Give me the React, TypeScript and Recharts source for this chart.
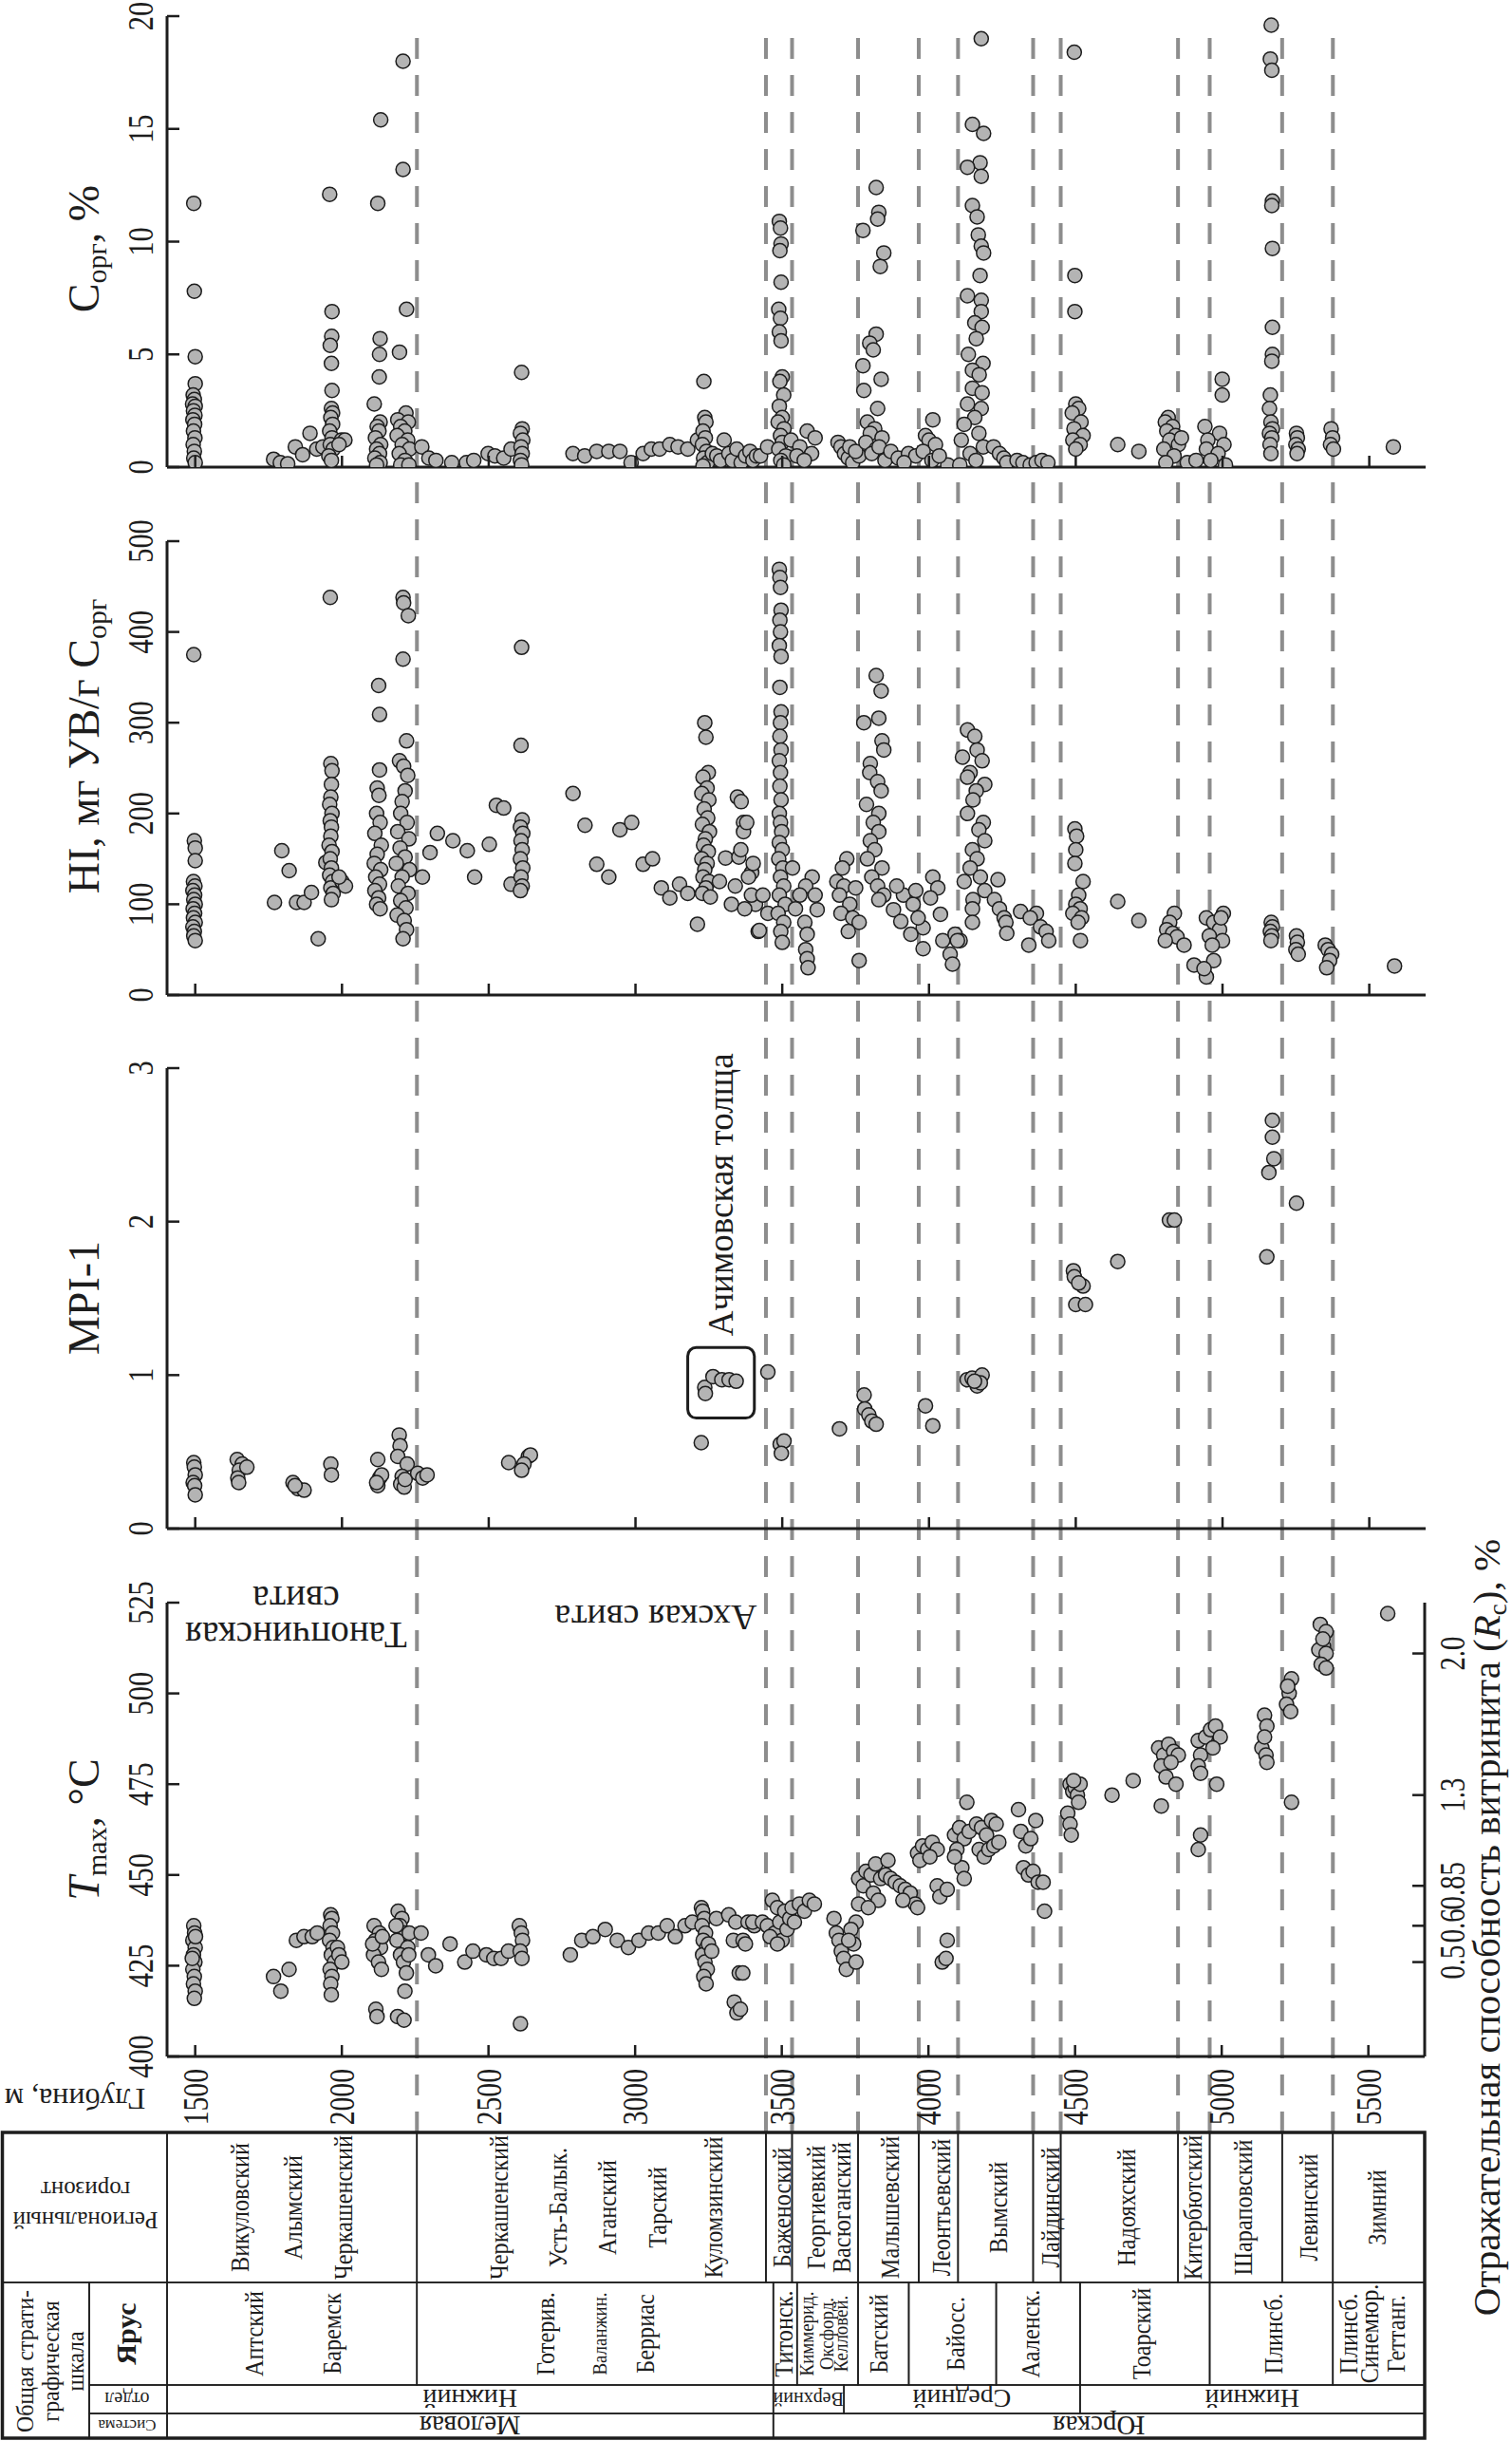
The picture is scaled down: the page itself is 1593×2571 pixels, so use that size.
import React from 'react'
import { ScatterChart, Scatter, XAxis, YAxis, ReferenceLine, ReferenceArea, ReferenceDot } from 'recharts'

const W = 1593
const H = 2571
const INK = '#1d1d1d'
const DOT = '#b4b4b4'
const DASH = '#8d8d8d'
const SERIF = '"Liberation Serif", "DejaVu Serif", serif'

// depth axis (m)
const DEPTH_DOMAIN: [number, number] = [1404, 5692]
const DEPTH_TICKS = [1500, 2000, 2500, 3000, 3500, 4000, 4500, 5000, 5500]
const BOUNDARIES = [2256, 3446, 3535, 3760, 3967, 4101, 4357, 4451, 4851, 4959, 5206, 5379]

const CORG_TICKS = [0, 5, 10, 15, 20]
const HI_TICKS = [0, 100, 200, 300, 400, 500]
const MPI_TICKS = [0, 1, 2, 3]
const TMAX_TICKS = [400, 425, 450, 475, 500, 525]
const RC_TICK_TMAX = [426, 436, 447, 472, 511]
const RC_TICK_LABELS = ['0.5', '0.6', '0.85', '1.3', '2.0']

// [depth, Corg %]
const CORG: [number, number][] = [
  [1495, 11.7], [1497, 7.8], [1500, 4.9], [1500, 3.7], [1493, 3.2], [1497, 3.0], [1491, 2.8], [1500, 2.7], [1494, 2.5],
  [1499, 2.3], [1492, 2.1], [1498, 1.9], [1494, 1.6], [1499, 1.3], [1493, 1.0], [1497, 0.7], [1495, 0.4], [1500, 0.2],
  [1767, 0.35], [1790, 0.2], [1815, 0.15], [1841, 0.9], [1866, 0.55], [1891, 1.5], [1914, 0.8], [1935, 0.9],
  [1958, 12.1], [1966, 6.9], [1965, 5.8], [1960, 5.4], [1964, 4.6], [1966, 3.4], [1964, 2.6], [1968, 2.4], [1962, 2.2],
  [1968, 1.9], [1958, 1.6], [1966, 1.3], [1960, 1.0], [1970, 0.8], [1955, 0.5], [1964, 0.3], [1998, 1.2], [2010, 1.2], [1990, 1.0],
  [2132, 15.4], [2122, 11.7], [2130, 5.7], [2128, 5.0], [2127, 4.0], [2110, 2.8], [2130, 2.0], [2120, 1.8], [2126, 1.6],
  [2114, 1.3], [2132, 1.0], [2118, 0.8], [2128, 0.6], [2112, 0.4], [2130, 0.2], [2118, 0.1],
  [2208, 18.0], [2208, 13.2], [2220, 7.0], [2196, 5.1], [2218, 2.4], [2190, 2.1], [2226, 2.0], [2200, 1.8], [2214, 1.6],
  [2188, 1.4], [2224, 1.2], [2205, 1.0], [2230, 0.8], [2195, 0.6], [2215, 0.3], [2200, 0.1], [2228, 0.1],
  [2272, 0.9], [2296, 0.4], [2320, 0.3], [2374, 0.2], [2424, 0.2], [2449, 0.3], [2498, 0.6], [2521, 0.5], [2551, 0.4], [2576, 0.8],
  [2612, 4.2], [2614, 1.7], [2608, 1.5], [2616, 1.2], [2610, 0.9], [2614, 0.6], [2608, 0.3], [2612, 0.1],
  [2787, 0.6], [2827, 0.5], [2868, 0.7], [2909, 0.7], [2947, 0.7], [2985, 0.2], [3026, 0.6], [3054, 0.8], [3082, 0.8],
  [3117, 1.0], [3145, 0.9], [3178, 0.8], [3211, 1.2],
  [3233, 3.8], [3236, 2.2], [3240, 2.0], [3230, 1.6], [3238, 1.3], [3228, 1.0], [3242, 0.7], [3232, 0.4], [3245, 0.2], [3230, 0.05],
  [3262, 0.6], [3277, 0.5], [3290, 0.3], [3302, 1.2], [3318, 0.6], [3330, 0.3], [3345, 0.8], [3360, 0.2], [3375, 0.5],
  [3390, 0.7], [3400, 0.3], [3412, 0.5], [3426, 0.5], [3450, 0.9],
  [3490, 10.9], [3494, 10.6], [3496, 9.9], [3492, 9.6], [3496, 8.2], [3488, 7.0], [3494, 6.6], [3490, 6.0], [3496, 5.6],
  [3500, 4.0], [3492, 3.8], [3505, 3.2], [3490, 2.7], [3500, 2.2], [3486, 2.0], [3506, 1.7], [3494, 1.4], [3500, 1.1],
  [3488, 0.8], [3512, 0.5], [3495, 0.3], [3505, 0.1],
  [3530, 1.2], [3560, 0.9], [3585, 1.6], [3600, 0.6], [3612, 1.3], [3550, 0.5], [3575, 0.3],
  [3690, 1.1], [3700, 0.9], [3712, 0.6], [3725, 0.4], [3740, 0.2], [3762, 0.5], [3730, 0.9], [3750, 0.7],
  [3820, 12.4], [3829, 11.3], [3825, 11.0], [3775, 10.5], [3846, 9.5], [3834, 8.9], [3820, 5.9], [3798, 5.5], [3810, 5.2],
  [3775, 4.5], [3837, 3.9], [3778, 3.4], [3825, 2.6], [3790, 2.0], [3815, 1.7], [3800, 1.5], [3840, 1.3], [3785, 1.1],
  [3820, 0.8], [3805, 0.6], [3850, 0.3], [3830, 0.9],
  [3870, 0.7], [3895, 0.4], [3930, 0.6], [3955, 0.5], [3915, 0.2],
  [4013, 2.1], [3988, 1.4], [4000, 1.2], [4022, 1.0], [3980, 0.7], [4010, 0.3], [4064, 0.1], [4035, 0.5],
  [4148, 15.2], [4186, 14.8], [4174, 13.5], [4131, 13.3], [4178, 12.9], [4178, 19.0], [4148, 11.6], [4164, 11.1], [4168, 10.3],
  [4178, 9.8], [4186, 9.5], [4174, 8.5], [4131, 7.6], [4178, 7.4], [4178, 6.9], [4156, 6.4], [4181, 6.2], [4161, 5.7],
  [4134, 5.0], [4184, 4.6], [4148, 4.3], [4171, 4.1], [4148, 3.5], [4181, 3.3], [4131, 2.8], [4178, 2.6], [4156, 2.2],
  [4120, 1.9], [4170, 1.5], [4110, 1.2], [4185, 0.9], [4140, 0.6], [4160, 0.3], [4105, 0.1],
  [4220, 0.9], [4240, 0.6], [4255, 0.4], [4265, 0.2], [4300, 0.3], [4320, 0.2], [4345, 0.1], [4365, 0.2], [4385, 0.3], [4405, 0.2],
  [4495, 18.4], [4497, 8.5], [4497, 6.9], [4500, 2.8], [4510, 2.6], [4488, 2.4], [4518, 2.0], [4494, 1.7], [4525, 1.4],
  [4490, 1.2], [4515, 1.0], [4500, 0.8], [4643, 1.0], [4715, 0.7],
  [4815, 2.2], [4805, 2.0], [4830, 1.8], [4810, 1.6], [4840, 1.4], [4820, 1.2], [4850, 1.0], [4800, 0.8], [4835, 0.5],
  [4807, 0.2], [4860, 1.3], [4880, 0.2], [4910, 0.3],
  [4999, 3.9], [4999, 3.2], [4940, 1.8], [4990, 1.5], [4950, 1.2], [5005, 1.0], [4945, 0.8], [4985, 0.6], [4960, 0.3], [5010, 0.1],
  [5166, 19.6], [5163, 18.1], [5168, 17.6], [5170, 11.8], [5168, 11.6], [5170, 9.7], [5170, 6.2], [5170, 5.0], [5168, 4.7],
  [5163, 3.2], [5160, 2.6], [5165, 2.0], [5170, 1.7], [5160, 1.5], [5168, 1.3], [5162, 1.0], [5165, 0.6],
  [5252, 1.5], [5255, 1.3], [5250, 1.0], [5258, 0.8], [5254, 0.6],
  [5370, 1.7], [5375, 1.3], [5368, 1.0], [5378, 0.8], [5582, 0.9],
]

// [depth, HI mg HC/g Corg]
const HI: [number, number][] = [
  [1495, 375], [1497, 170], [1500, 162], [1500, 148], [1494, 125], [1499, 120], [1492, 115], [1498, 110], [1495, 105],
  [1500, 100], [1493, 95], [1498, 90], [1494, 85], [1500, 80], [1492, 75], [1497, 70], [1495, 65], [1500, 60],
  [1770, 102], [1795, 159], [1820, 137], [1845, 102], [1871, 102], [1896, 113], [1919, 62], [1945, 146],
  [1960, 438], [1962, 255], [1966, 247], [1964, 232], [1962, 218], [1958, 210], [1966, 200], [1960, 192], [1964, 185],
  [1962, 175], [1956, 165], [1966, 158], [1960, 150], [1964, 140], [1958, 132], [1968, 125], [1962, 118], [1970, 112],
  [1964, 105], [2000, 125], [2012, 120], [1990, 130],
  [2125, 341], [2128, 309], [2128, 248], [2120, 228], [2126, 220], [2118, 200], [2130, 190], [2112, 178], [2134, 165],
  [2120, 155], [2110, 145], [2132, 138], [2115, 130], [2128, 122], [2112, 115], [2125, 107], [2118, 100], [2130, 95],
  [2208, 438], [2210, 432], [2226, 418], [2208, 370], [2220, 280], [2196, 258], [2210, 252], [2224, 242], [2215, 225],
  [2205, 213], [2200, 200], [2222, 190], [2190, 180], [2228, 172], [2198, 162], [2215, 152], [2185, 145], [2230, 138],
  [2205, 130], [2192, 120], [2225, 112], [2200, 104], [2218, 96], [2188, 88], [2212, 82], [2220, 72], [2208, 62],
  [2274, 130], [2300, 157], [2325, 178], [2378, 170], [2427, 159], [2452, 130], [2502, 166], [2526, 209], [2551, 206], [2576, 122],
  [2612, 383], [2610, 275], [2614, 193], [2608, 185], [2616, 178], [2610, 170], [2614, 160], [2608, 150], [2616, 140],
  [2610, 130], [2614, 120], [2608, 115],
  [2787, 222], [2828, 187], [2868, 144], [2909, 130], [2947, 182], [2987, 190], [3026, 144], [3058, 150], [3088, 118],
  [3117, 107], [3150, 122], [3178, 112], [3211, 78],
  [3236, 300], [3240, 284], [3248, 245], [3230, 240], [3244, 228], [3226, 222], [3250, 215], [3234, 205], [3246, 195],
  [3228, 188], [3252, 180], [3238, 172], [3232, 165], [3248, 158], [3226, 150], [3244, 145], [3236, 138], [3230, 130],
  [3250, 125], [3240, 118], [3228, 112], [3255, 108],
  [3286, 125], [3307, 151], [3327, 100], [3340, 120], [3352, 152], [3347, 218], [3360, 213], [3368, 190], [3368, 180],
  [3396, 135], [3409, 100], [3418, 70], [3379, 190], [3359, 160], [3401, 145], [3385, 130], [3395, 110], [3372, 95],
  [3422, 71], [3434, 110], [3451, 90],
  [3490, 469], [3492, 460], [3494, 449], [3496, 424], [3492, 413], [3494, 400], [3490, 385], [3496, 373], [3492, 339],
  [3496, 312], [3494, 300], [3492, 285], [3496, 270], [3490, 258], [3494, 245], [3492, 230], [3496, 215], [3490, 200],
  [3494, 190], [3498, 180], [3490, 168], [3500, 160], [3488, 150], [3502, 140], [3494, 130], [3505, 120], [3490, 110],
  [3510, 100], [3486, 90], [3505, 80], [3495, 70], [3500, 58],
  [3535, 140], [3602, 130], [3580, 120], [3560, 110], [3545, 95], [3577, 80], [3585, 67], [3580, 50], [3585, 40],
  [3588, 30], [3619, 94], [3612, 110],
  [3720, 150], [3705, 140], [3686, 125], [3710, 120], [3695, 110], [3730, 100], [3700, 90], [3740, 85], [3762, 80],
  [3762, 38], [3725, 70], [3750, 118],
  [3820, 352], [3837, 335], [3778, 300], [3829, 305], [3840, 280], [3846, 270], [3800, 255], [3798, 245], [3825, 235],
  [3837, 225], [3787, 210], [3829, 200], [3810, 190], [3829, 180], [3800, 170], [3815, 160], [3790, 150], [3840, 140],
  [3805, 130], [3825, 120], [3846, 110], [3829, 105],
  [3879, 94], [3913, 110], [3946, 100], [3980, 74], [4013, 130], [4030, 118], [4039, 89], [3980, 51], [3938, 67],
  [3904, 81], [4005, 107], [3963, 85], [3890, 120], [3955, 115],
  [4047, 60], [4072, 45], [4080, 34], [4089, 67], [4106, 60],
  [4131, 292], [4156, 285], [4164, 270], [4114, 262], [4181, 258], [4140, 245], [4131, 240], [4190, 232], [4161, 225],
  [4150, 215], [4131, 200], [4185, 190], [4170, 182], [4190, 170], [4148, 160], [4164, 150], [4140, 140], [4175, 130],
  [4120, 125], [4190, 115], [4150, 105], [4148, 95], [4148, 80], [4097, 60], [4235, 127],
  [4223, 105], [4240, 95], [4256, 85], [4262, 80], [4265, 68],
  [4312, 92], [4366, 90], [4345, 85], [4380, 75], [4399, 70], [4408, 60], [4340, 55],
  [4497, 183], [4503, 175], [4500, 160], [4497, 145], [4525, 125], [4510, 110], [4500, 100], [4515, 95], [4490, 90],
  [4520, 85], [4508, 80], [4516, 60], [4643, 103], [4715, 82],
  [4836, 90], [4820, 80], [4810, 72], [4830, 68], [4845, 64], [4805, 60], [4869, 55], [4903, 33],
  [4945, 85], [5003, 90], [4970, 80], [4990, 72], [4955, 65], [5000, 60], [4965, 55], [4970, 38], [4945, 20], [4937, 29], [4995, 85],
  [5166, 80], [5170, 75], [5163, 70], [5168, 65], [5165, 60],
  [5252, 65], [5255, 58], [5250, 50], [5258, 45],
  [5350, 55], [5360, 50], [5372, 45], [5365, 38], [5355, 30], [5586, 32],
]

// [depth, MPI-1]
const MPI: [number, number][] = [
  [1495, 0.43], [1497, 0.40], [1500, 0.35], [1493, 0.30], [1498, 0.28], [1500, 0.22],
  [1643, 0.45], [1660, 0.42], [1650, 0.38], [1645, 0.33], [1676, 0.40], [1648, 0.30],
  [1833, 0.30], [1850, 0.26], [1871, 0.25], [1840, 0.28], [1962, 0.42], [1964, 0.35],
  [2122, 0.45], [2128, 0.33], [2122, 0.28], [2135, 0.35], [2118, 0.30],
  [2195, 0.61], [2198, 0.54], [2190, 0.47], [2222, 0.42], [2205, 0.34], [2200, 0.29], [2212, 0.27], [2215, 0.32],
  [2258, 0.36], [2275, 0.33], [2290, 0.35],
  [2568, 0.43], [2635, 0.47], [2642, 0.48], [2620, 0.42], [2612, 0.38],
  [3224, 0.56], [3236, 0.92], [3238, 0.88], [3264, 0.99], [3294, 0.97], [3319, 0.97], [3343, 0.96],
  [3451, 1.02], [3493, 0.55], [3506, 0.57], [3497, 0.49], [3695, 0.65],
  [3779, 0.87], [3781, 0.78], [3795, 0.74], [3805, 0.70], [3820, 0.68], [3988, 0.80], [4013, 0.67],
  [4130, 0.97], [4147, 0.98], [4181, 1.00], [4164, 0.93], [4175, 0.95], [4155, 0.96],
  [4492, 1.68], [4495, 1.64], [4525, 1.58], [4500, 1.46], [4533, 1.46], [4510, 1.60],
  [4643, 1.74], [4819, 2.01], [4836, 2.01], [5151, 1.77],
  [5158, 2.32], [5175, 2.41], [5170, 2.55], [5170, 2.66], [5252, 2.12],
]

// [depth, Tmax °C]
const TMAX: [number, number][] = [
  [1495, 436], [1498, 434], [1492, 432], [1500, 430], [1494, 428], [1499, 426], [1492, 424], [1497, 422], [1494, 420],
  [1500, 418], [1497, 416], [1501, 433], [1490, 427],
  [1767, 422], [1792, 418], [1820, 424], [1845, 432], [1871, 433], [1899, 433], [1916, 434],
  [1962, 439], [1966, 438], [1960, 436], [1968, 434], [1958, 432], [1970, 430], [1964, 428], [1975, 426], [1960, 424],
  [1966, 422], [1962, 420], [1964, 417], [1985, 430], [1990, 428], [2000, 426],
  [2110, 436], [2128, 434], [2115, 432], [2132, 430], [2108, 428], [2125, 426], [2135, 424], [2116, 413], [2120, 411],
  [2105, 431], [2138, 433],
  [2192, 440], [2205, 438], [2198, 436], [2215, 434], [2188, 432], [2225, 430], [2200, 428], [2210, 426], [2220, 423],
  [2215, 418], [2190, 411], [2212, 410], [2230, 434], [2185, 436], [2228, 428],
  [2270, 434], [2295, 428], [2320, 425], [2369, 431], [2419, 426], [2447, 429], [2493, 428], [2518, 427], [2543, 427], [2568, 429],
  [2605, 436], [2612, 434], [2616, 432], [2608, 429], [2614, 427], [2609, 409],
  [2779, 428], [2818, 432], [2856, 433], [2898, 435], [2939, 432], [2977, 430], [3013, 432], [3046, 434], [3079, 434],
  [3109, 436], [3137, 433], [3170, 436], [3195, 437],
  [3226, 441], [3230, 440], [3236, 438], [3228, 436], [3240, 434], [3232, 432], [3244, 430], [3230, 428], [3238, 426],
  [3246, 424], [3234, 422], [3242, 420], [3250, 431],
  [3261, 429], [3277, 438], [3319, 439], [3335, 432], [3343, 437], [3355, 423], [3338, 415], [3347, 412], [3368, 432],
  [3385, 437], [3406, 436], [3376, 431], [3367, 423], [3401, 437], [3359, 413],
  [3434, 437], [3451, 436], [3468, 443], [3476, 434], [3485, 441], [3493, 437], [3501, 432], [3510, 440], [3518, 435],
  [3527, 438], [3535, 441], [3543, 437], [3560, 442], [3577, 440], [3594, 443], [3611, 442], [3460, 433], [3485, 431],
  [3678, 438], [3686, 434], [3695, 432], [3703, 429], [3711, 427], [3720, 424], [3745, 431], [3753, 437], [3762, 442],
  [3736, 435], [3728, 432], [3753, 426],
  [3762, 449], [3778, 447], [3787, 451], [3804, 450], [3812, 445], [3820, 453], [3829, 443], [3837, 449], [3854, 450],
  [3795, 441], [3862, 454],
  [3871, 449], [3887, 448], [3904, 447], [3921, 446], [3938, 445], [3955, 442], [3963, 441], [3913, 443],
  [3963, 456], [3980, 458], [3997, 457], [4013, 459], [4030, 457], [3971, 454], [4005, 455],
  [4030, 447], [4039, 444], [4064, 446], [4047, 426], [4060, 427], [4064, 432],
  [4089, 461], [4106, 463], [4122, 460], [4139, 462], [4097, 457], [4114, 452], [4089, 455], [4131, 470], [4122, 449],
  [4164, 464], [4181, 463], [4198, 461], [4215, 465], [4231, 464], [4173, 457], [4190, 455], [4206, 457], [4223, 458], [4240, 459],
  [4307, 468], [4315, 462], [4332, 458], [4349, 460], [4366, 465], [4324, 452], [4341, 450], [4357, 451], [4374, 448],
  [4391, 448], [4396, 440],
  [4483, 475], [4492, 473], [4500, 474], [4508, 472], [4517, 475], [4475, 467], [4483, 464], [4487, 461], [4495, 476], [4512, 470],
  [4626, 472], [4698, 476],
  [4785, 485], [4802, 483], [4819, 486], [4836, 484], [4852, 483], [4794, 480], [4810, 477], [4844, 475], [4794, 469], [4827, 481],
  [4920, 487], [4945, 488], [4962, 490], [4979, 491], [4995, 488], [4928, 483], [4920, 480], [4928, 478], [4983, 475],
  [4928, 461], [4920, 457], [4970, 485],
  [5146, 494], [5154, 491], [5137, 485], [5151, 483], [5154, 481], [5146, 488],
  [5238, 504], [5230, 500], [5221, 497], [5235, 495], [5238, 470], [5225, 502],
  [5336, 519], [5356, 517], [5347, 513], [5331, 512], [5356, 511], [5339, 508], [5356, 507], [5345, 515], [5566, 522],
]

// stratigraphic table: cell bounds (m) and labels [name, depth]
const TABLE_DOMAIN: [number, number] = [842.5, 5692]
const HEAD_SPLIT = 1138.6
const HORIZON_BOUNDS = [1404, 2256, 3446, 3535, 3760, 3967, 4101, 4357, 4451, 4851, 4959, 5206, 5379, 5692]
const STAGE_BOUNDS = [1404, 2256, 3471, 3552, 3760, 3933, 4231, 4517, 4959, 5379, 5692]
const SERIES_BOUNDS = [1404, 3471, 3712, 4517, 5692]
const SYSTEM_BOUNDS = [1404, 3471, 5692]
const HORIZONS: [string, number][] = [
  ['Викуловский', 1651], ['Алымский', 1835], ['Черкашенский', 2006], ['Черкашенский', 2537], ['Усть-Балык.', 2738],
  ['Аганский', 2906], ['Тарский', 3075], ['Куломзинский', 3266], ['Баженоский', 3501], ['Георгиевкий', 3618],
  ['Васюганский', 3705], ['Малышевский', 3870], ['Леонтьевский', 4045], ['Вымский', 4239], ['Лайдинский', 4417],
  ['Надояхский', 4676], ['Китербютский', 4903], ['Шараповский', 5072], ['Левинский', 5298], ['Зимний', 5531],
]
const STAGES: [string, number][] = [
  ['Аптский', 1702], ['Баремск', 1967], ['Готерив.', 2695], ['Берриас', 3035], ['Титонск.', 3508], ['Батский', 3832],
  ['Байосс.', 4094], ['Ааленск.', 4349], ['Тоарский', 4728], ['Плинсб.', 5178], ['Плинсб.', 5433], ['Синемюр.', 5504],
  ['Геттанг.', 5595],
]
const STAGES_SMALL: [string, number][] = [['Валанжин.', 2880], ['Киммерид.', 3585], ['Оксфорд.', 3653], ['Келловей.', 3702]]
const SERIES: [string, number][] = [['Нижний', 2437], ['Средний', 4114], ['Нижний', 5104]]
const SYSTEMS: [string, number][] = [['Меловая', 2437], ['Юрская', 4581]]

const pts = (a: [number, number][]) => a.map(([d, v]) => ({ d, v }))

function Txt({ x, y, angle = 0, size, sx = 1, anchor = 'middle', dy = '0.34em', weight = 'normal', children }: any) {
  return (
    <text
      transform={`translate(${x},${y}) rotate(${angle}) scale(${sx},1)`}
      dy={dy}
      textAnchor={anchor}
      fontFamily={SERIF}
      fontSize={size}
      fontWeight={weight}
      fill={INK}
    >
      {children}
    </text>
  )
}

const dotShape = (p: any) => <circle cx={p.cx} cy={p.cy} r={7.5} fill={DOT} stroke={INK} strokeWidth={1.5} />

function DepthTick({ x, y, payload, withLabel }: any) {
  return (
    <g>
      <line x1={x} y1={y} x2={x} y2={y - 12} stroke={INK} strokeWidth={2.5} />
      {withLabel && (
        <Txt x={x} y={y + 13} angle={-90} size={38} sx={0.78} anchor="end">
          {payload.value}
        </Txt>
      )}
    </g>
  )
}

function ValueTick({ x, y, payload }: any) {
  return (
    <g>
      <line x1={x} y1={y} x2={x + 13} y2={y} stroke={INK} strokeWidth={2.5} />
      <Txt x={x - 28} y={y} angle={-90} size={38} sx={0.8}>
        {payload.value}
      </Txt>
    </g>
  )
}

function RcTick({ x, y, payload }: any) {
  const i = RC_TICK_TMAX.indexOf(payload.value)
  return (
    <g>
      <line x1={x} y1={y} x2={x - 13} y2={y} stroke={INK} strokeWidth={2.5} />
      <Txt x={x + 29} y={y} angle={-90} size={38} sx={0.76}>
        {RC_TICK_LABELS[i]}
      </Txt>
    </g>
  )
}

const axisLine = { stroke: INK, strokeWidth: 3 }

// axes need a non-zero band, so they get 1px and the margins shrink by 1px
function Panel({ top, height, plotTop, plotBottom, data, domain, ticks, depthLabels = false, rc = false, children }: any) {
  return (
    <div style={{ position: 'absolute', left: 0, top, width: W, height }}>
      <ScatterChart
        width={W}
        height={height}
        margin={{ top: plotTop - top, right: 91, bottom: top + height - plotBottom - 1, left: 175 }}
      >
        <XAxis
          type="number"
          dataKey="d"
          domain={DEPTH_DOMAIN}
          ticks={DEPTH_TICKS}
          interval={0}
          allowDataOverflow
          height={1}
          tickSize={0}
          tickMargin={0}
          tickLine={false}
          axisLine={axisLine}
          tick={(p: any) => <DepthTick {...p} withLabel={depthLabels} />}
        />
        <YAxis
          type="number"
          dataKey="v"
          domain={domain}
          ticks={ticks}
          interval={0}
          allowDataOverflow
          width={1}
          tickSize={0}
          tickMargin={0}
          tickLine={false}
          axisLine={axisLine}
          tick={(p: any) => <ValueTick {...p} />}
        />
        {rc && (
          <YAxis
            yAxisId="rc"
            orientation="right"
            type="number"
            domain={domain}
            ticks={RC_TICK_TMAX}
            interval={0}
            allowDataOverflow
            width={1}
            tickSize={0}
            tickMargin={0}
            tickLine={false}
            axisLine={axisLine}
            tick={(p: any) => <RcTick {...p} />}
          />
        )}
        <Scatter data={pts(data)} isAnimationActive={false} shape={dotShape} />
        {children}
      </ScatterChart>
    </div>
  )
}

const achimovBox = (p: any) => (
  <g>
    <rect x={p.x} y={p.y} width={p.width} height={p.height} rx={9} fill="none" stroke={INK} strokeWidth={3} />
    <Txt x={p.x + p.width / 2 + 12} y={p.y - 12} angle={-90} size={37} anchor="start" dy={0}>
      Ачимовская толща
    </Txt>
  </g>
)

function BoundaryLines() {
  return (
    <div style={{ position: 'absolute', left: 0, top: 0, width: W, height: 2246 }}>
      <ScatterChart width={W} height={2246} margin={{ top: 30, right: 92, bottom: 0, left: 176 }}>
        <XAxis type="number" dataKey="d" domain={DEPTH_DOMAIN} hide allowDataOverflow />
        <YAxis type="number" dataKey="v" domain={[0, 1]} hide allowDataOverflow />
        <Scatter data={[]} isAnimationActive={false} />
        {BOUNDARIES.map((d) => (
          <ReferenceLine key={d} x={d} stroke={DASH} strokeWidth={4} strokeDasharray="22 17" />
        ))}
      </ScatterChart>
    </div>
  )
}

const cells = (bounds: number[], y1: number, y2: number) =>
  bounds.slice(0, -1).map((b, i) => ({ x1: b, x2: bounds[i + 1], y1, y2 }))

function label(key: string, d: number, u: number, render: (cx: number, cy: number) => React.ReactNode) {
  return (
    <ReferenceDot key={key} x={d} y={u} r={1} ifOverflow="visible" shape={(p: any) => <g>{render(p.cx, p.cy)}</g>} />
  )
}

function StratTable() {
  const allCells = [
    { x1: TABLE_DOMAIN[0], x2: 1404, y1: 164, y2: 322 },
    { x1: TABLE_DOMAIN[0], x2: HEAD_SPLIT, y1: 0, y2: 164 },
    { x1: HEAD_SPLIT, x2: 1404, y1: 56, y2: 164 },
    { x1: HEAD_SPLIT, x2: 1404, y1: 26, y2: 56 },
    { x1: HEAD_SPLIT, x2: 1404, y1: 0, y2: 26 },
    ...cells(HORIZON_BOUNDS, 164, 322),
    ...cells(STAGE_BOUNDS, 56, 164),
    ...cells(SERIES_BOUNDS, 26, 56),
    ...cells(SYSTEM_BOUNDS, 0, 26),
  ]
  return (
    <div style={{ position: 'absolute', left: 0, top: 2240, width: W, height: 331 }}>
      <ScatterChart width={W} height={331} margin={{ top: 6, right: 92, bottom: 3, left: 2.5 }}>
        <XAxis type="number" dataKey="d" domain={TABLE_DOMAIN} hide allowDataOverflow />
        <YAxis type="number" dataKey="v" domain={[0, 322]} hide allowDataOverflow />
        <Scatter data={[]} isAnimationActive={false} />
        {allCells.map((c, i) => (
          <ReferenceArea key={`c${i}`} {...c} fill="none" stroke={INK} strokeWidth={1.6} ifOverflow="visible" />
        ))}
        <ReferenceArea x1={TABLE_DOMAIN[0]} x2={TABLE_DOMAIN[1]} y1={0} y2={322} fill="none" stroke={INK} strokeWidth={3.5} ifOverflow="visible" />
        {label('hr1', 1126, 230, (x, y) => <Txt x={x} y={y} angle={180} size={25}>Региональный</Txt>)}
        {label('hr2', 1126, 262, (x, y) => <Txt x={x} y={y} angle={180} size={25}>горизонт</Txt>)}
        {label('gs1', 920, 81, (x, y) => <Txt x={x} y={y} angle={-90} size={26} sx={0.92}>Общая страти-</Txt>)}
        {label('gs2', 1007, 81, (x, y) => <Txt x={x} y={y} angle={-90} size={26} sx={0.92}>графическая</Txt>)}
        {label('gs3', 1090, 81, (x, y) => <Txt x={x} y={y} angle={-90} size={26} sx={0.92}>шкала</Txt>)}
        {label('yr', 1263, 110, (x, y) => <Txt x={x} y={y} angle={-90} size={30} weight="bold">Ярус</Txt>)}
        {label('ot', 1268, 41, (x, y) => <Txt x={x} y={y} angle={180} size={20}>отдел</Txt>)}
        {label('sy', 1268, 13, (x, y) => <Txt x={x} y={y} angle={180} size={17}>Система</Txt>)}
        {HORIZONS.map(([n, d], i) => label(`h${i}`, d, 243, (x, y) => <Txt x={x} y={y} angle={-90} size={27} sx={0.9}>{n}</Txt>))}
        {STAGES.map(([n, d], i) => label(`s${i}`, d, 110, (x, y) => <Txt x={x} y={y} angle={-90} size={27} sx={0.9}>{n}</Txt>))}
        {STAGES_SMALL.map(([n, d], i) => label(`ss${i}`, d, 110, (x, y) => <Txt x={x} y={y} angle={-90} size={21} sx={0.9}>{n}</Txt>))}
        {SERIES.map(([n, d], i) => label(`o${i}`, d, 41, (x, y) => <Txt x={x} y={y} angle={180} size={28}>{n}</Txt>))}
        {label('o-up', 3591, 41, (x, y) => <Txt x={x} y={y} angle={180} size={20}>Верхний</Txt>)}
        {SYSTEMS.map(([n, d], i) => label(`y${i}`, d, 13, (x, y) => <Txt x={x} y={y} angle={180} size={29}>{n}</Txt>))}
      </ScatterChart>
    </div>
  )
}

function Overlay() {
  return (
    <svg width={W} height={H} style={{ position: 'absolute', left: 0, top: 0, pointerEvents: 'none' }}>
      <Txt x={104} y={262} angle={-90} size={46} dy={0}>
        C<tspan fontSize={30} dy={8}>орг</tspan>
        <tspan dy={-8}>, %</tspan>
      </Txt>
      <Txt x={104} y={786} angle={-90} size={46} dy={0}>
        HI, мг УВ/г C<tspan fontSize={30} dy={8}>орг</tspan>
      </Txt>
      <Txt x={104} y={1367} angle={-90} size={46} dy={0}>
        MPI-1
      </Txt>
      <Txt x={104} y={1927} angle={-90} size={46} dy={0}>
        <tspan fontStyle="italic">T</tspan>
        <tspan fontSize={30} dy={8}>max</tspan>
        <tspan dy={-8}>, °C</tspan>
      </Txt>
      <Txt x={312} y={1722} angle={180} size={39}>Танопчинская</Txt>
      <Txt x={312} y={1684} angle={180} size={39}>свита</Txt>
      <Txt x={691} y={1704} angle={180} size={38}>Ахская свита</Txt>
      <Txt x={79} y={2211} angle={180} size={32}>Глубина, м</Txt>
      <Txt x={1580} y={2030} angle={-90} size={41} dy={0}>
        Отражательная способность витринита (<tspan fontStyle="italic">R</tspan>
        <tspan fontSize={27} dy={7}>c</tspan>
        <tspan dy={-7}>), %</tspan>
      </Txt>
    </svg>
  )
}

export default function App() {
  return (
    <div style={{ position: 'absolute', left: 0, top: 0, width: W, height: H, background: '#fff', overflow: 'hidden' }}>
      <BoundaryLines />
      <Panel top={0} height={540} plotTop={17} plotBottom={492} data={CORG} domain={[0, 20]} ticks={CORG_TICKS} />
      <Panel top={540} height={560} plotTop={570} plotBottom={1048} data={HI} domain={[0, 500]} ticks={HI_TICKS} />
      <Panel top={1100} height={560} plotTop={1125} plotBottom={1610} data={MPI} domain={[0, 3]} ticks={MPI_TICKS}>
        <ReferenceArea x1={3178} x2={3405} y1={0.72} y2={1.18} ifOverflow="visible" shape={achimovBox} />
      </Panel>
      <Panel
        top={1660}
        height={600}
        plotTop={1688}
        plotBottom={2166}
        data={TMAX}
        domain={[400, 525]}
        ticks={TMAX_TICKS}
        depthLabels
        rc
      />
      <StratTable />
      <Overlay />
    </div>
  )
}
